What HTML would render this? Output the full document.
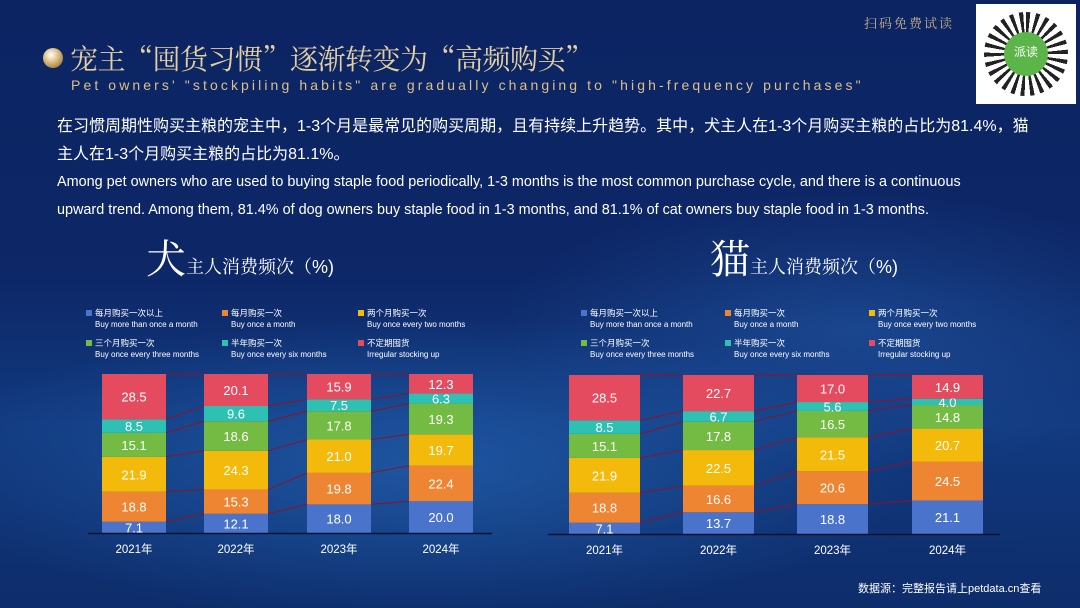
<!DOCTYPE html>
<html><head><meta charset="utf-8">
<style>
html,body{margin:0;padding:0}
body{width:1080px;height:608px;overflow:hidden;position:relative;
background:radial-gradient(ellipse 700px 220px at 420px 470px,rgba(40,110,190,0.55),rgba(0,0,0,0) 70%),
radial-gradient(ellipse 500px 200px at 850px 330px,rgba(40,100,180,0.45),rgba(0,0,0,0) 70%),
linear-gradient(#0c2462 0%,#0d2767 45%,#123a80 70%,#0d2c6a 100%);
font-family:"Liberation Sans","Noto Sans CJK SC",sans-serif;color:#fff}
.abs{position:absolute;white-space:nowrap}
</style></head><body>
<div class="abs" style="left:864px;top:13px;font-size:13px;color:#c9b48a;letter-spacing:2px;font-family:'Noto Serif CJK SC',serif">扫码免费试读</div>
<div class="abs" style="left:976px;top:4px;width:100px;height:100px;background:#fff">
 <div style="position:absolute;left:8px;top:8px;width:84px;height:84px;border-radius:50%;background:repeating-conic-gradient(#222 0 6deg,#fff 6deg 14deg)"></div>
 <div style="position:absolute;left:28px;top:28px;width:44px;height:44px;border-radius:50%;background:#5cb548;font-size:12px;text-align:center;line-height:40px;color:#fff">派读</div>
</div>
<div class="abs" style="left:43px;top:48px;width:20px;height:20px;border-radius:50%;background:radial-gradient(circle at 40% 35%,#fff,#d8b878 45%,#7a5a20)"></div>
<div class="abs" style="left:70px;top:38px;font-size:28px;color:#e3cfa2;font-family:'Noto Serif CJK SC',serif;letter-spacing:-0.5px">宠主“囤货习惯”逐渐转变为“高频购买”</div>
<div class="abs" style="left:71px;top:77px;font-size:14px;color:#d9c08a;letter-spacing:3.1px">Pet owners' "stockpiling habits" are gradually changing to "high-frequency purchases"</div>
<div class="abs" style="left:57px;top:113px;font-size:16px;line-height:28px;color:#fff">在习惯周期性购买主粮的宠主中，1-3个月是最常见的购买周期，且有持续上升趋势。其中，犬主人在1-3个月购买主粮的占比为81.4%，猫<br>主人在1-3个月购买主粮的占比为81.1%。</div>
<div class="abs" style="left:57px;top:168px;font-size:14.4px;line-height:28px;color:#fff">Among pet owners who are used to buying staple food periodically, 1-3 months is the most common purchase cycle, and there is a continuous<br>upward trend. Among them, 81.4% of dog owners buy staple food in 1-3 months, and 81.1% of cat owners buy staple food in 1-3 months.</div>
<div class="abs" style="left:146px;top:228px;font-family:'Noto Serif CJK SC',serif"><span style="font-size:40px">犬</span><span style="font-size:18px">主人消费频次（<span style="font-family:'Liberation Sans',sans-serif">%)</span></span></div>
<div class="abs" style="left:710px;top:228px;font-family:'Noto Serif CJK SC',serif"><span style="font-size:40px">猫</span><span style="font-size:18px">主人消费频次（<span style="font-family:'Liberation Sans',sans-serif">%)</span></span></div>
<div class="abs" style="left:858px;top:580px;font-size:11px;color:#fff">数据源：完整报告请上petdata.cn查看</div>
<svg id="s" width="1080" height="608" style="position:absolute;left:0;top:0"></svg>
<script>
var C=["#4a74cc","#ee8533","#f3b90b","#74bb43","#2dc0b3","#e54b5f"];
var ZH=["每月购买一次以上","每月购买一次","两个月购买一次","三个月购买一次","半年购买一次","不定期囤货"];
var EN=["Buy more than once a month","Buy once a month","Buy once every two months","Buy once every three months","Buy once every six months","Irregular stocking up"];
var dog=[[7.1,18.8,21.9,15.1,8.5,28.5],[12.1,15.3,24.3,18.6,9.6,20.1],[18.0,19.8,21.0,17.8,7.5,15.9],[20.0,22.4,19.7,19.3,6.3,12.3]];
var cat=[[7.1,18.8,21.9,15.1,8.5,28.5],[13.7,16.6,22.5,17.8,6.7,22.7],[18.8,20.6,21.5,16.5,5.6,17.0],[21.1,24.5,20.7,14.8,4.0,14.9]];
var h='';
function chart(d,xs,w,top,bot,lx,ax0,ax1){
 var H=bot-top,bounds=[];
 d.forEach(function(v,i){var tot=v.reduce(function(a,b){return a+b}),y=bot,b=[bot];
  v.forEach(function(p,k){var hh=p/tot*H;y-=hh;
   h+='<rect x="'+xs[i]+'" y="'+y+'" width="'+w+'" height="'+hh+'" fill="'+C[k]+'"/>';
   h+='<text x="'+(xs[i]+w/2)+'" y="'+(y+hh/2+5)+'" font-size="13" fill="#fff" text-anchor="middle">'+p.toFixed(1)+'</text>';
   b.push(y);});
  bounds.push(b);
  h+='<text x="'+(xs[i]+w/2)+'" y="'+(bot+20)+'" font-size="11.5" fill="#fff" text-anchor="middle">'+(2021+i)+'年</text>';});
 for(var i=0;i<3;i++)for(var k=1;k<=6;k++)
  h+='<line x1="'+(xs[i]+w)+'" y1="'+bounds[i][k]+'" x2="'+xs[i+1]+'" y2="'+bounds[i+1][k]+'" stroke="#8a1428" stroke-width="1"/>';
 h+='<line x1="'+ax0+'" y1="'+(bot+0.5)+'" x2="'+ax1+'" y2="'+(bot+0.5)+'" stroke="#0a1230" stroke-width="1.5"/>';
 for(var k=0;k<6;k++){var x=lx[k%3],y=(k<3?309:339);
  h+='<rect x="'+x+'" y="'+(y+1)+'" width="6" height="6" fill="'+C[k]+'"/>';
  h+='<text x="'+(x+9)+'" y="'+(y+7)+'" font-size="8.5" fill="#fff">'+ZH[k]+'</text>';
  h+='<text x="'+(x+9)+'" y="'+(y+18)+'" font-size="8" fill="#fff">'+EN[k]+'</text>';}
}
chart(dog,[102,204,307,409],64,374,533,[86,222,358],88,492);
chart(cat,[569,683,797,912],71,375,534,[581,725,869],548,1000);
document.getElementById('s').innerHTML=h;
</script>
</body></html>
